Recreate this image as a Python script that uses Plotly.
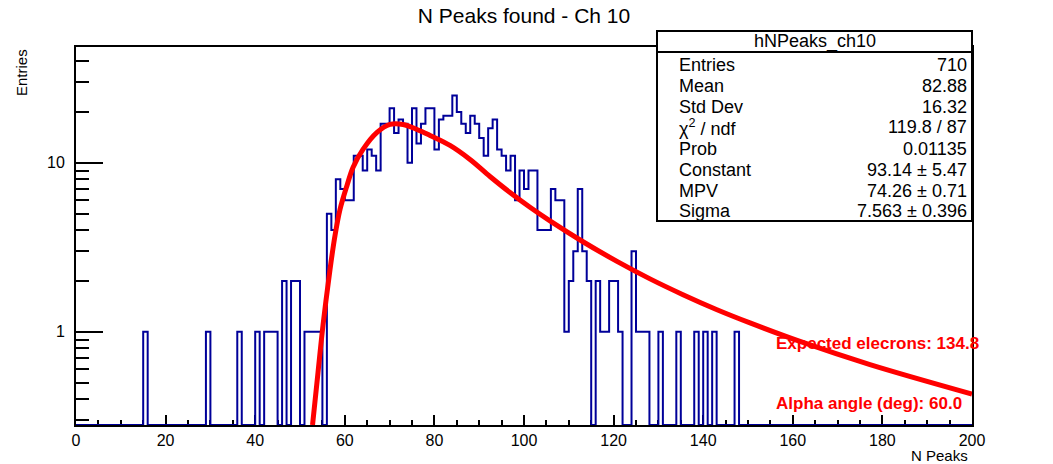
import plotly.graph_objects as go
import math

# ---------------- data ----------------
counts = [
    0, 0, 0, 0, 0, 0, 0, 0, 0, 0, 0, 0, 0, 0, 0, 1, 0, 0, 0, 0,
    0, 0, 0, 0, 0, 0, 0, 0, 0, 1, 0, 0, 0, 0, 0, 0, 1, 0, 0, 0,
    1, 0, 1, 1, 1, 0, 2, 0, 2, 2, 0, 1, 1, 1, 1, 0, 5, 4, 8, 7,
    6, 6, 11, 11, 9, 12, 11, 9, 17, 17, 21, 15, 18, 17, 10, 21, 13, 17, 21, 21,
    12, 18, 19, 19, 25, 20, 17, 15, 19, 17, 14, 11, 16, 18, 12, 11, 9, 11, 6, 9,
    7, 9, 9, 4, 4, 4, 7, 6, 6, 1, 2, 3, 7, 3, 2, 0, 2, 1, 1, 2,
    2, 1, 0, 0, 3, 1, 1, 1, 0, 0, 1, 0, 0, 0, 1, 0, 0, 0, 1, 0,
    1, 0, 1, 0, 0, 0, 0, 1, 0, 0, 0, 0, 0, 0, 0, 0, 0, 0, 0, 0,
    0, 0, 0, 0, 0, 0, 0, 0, 0, 0, 0, 0, 0, 0, 0, 0, 0, 0, 0, 0,
    0, 0, 0, 0, 0, 0, 0, 0, 0, 0, 0, 0, 0, 0, 0, 0, 0, 0, 0, 0,
]
bin_low = 0
bin_width = 1

# fitted (Landau) curve
fit_x = [52.8, 54.02, 55.13, 56.70, 57.81, 58.93, 60.49, 61.83, 64.06, 67.19,
         70.09, 72.99, 76.12, 79.02, 83.48, 87.95, 92.41, 96.88, 101.34, 105.80,
         113.17, 120.76, 128.13, 135.49, 143.08, 150.45, 161.61, 177.23, 200.0]
fit_y = [0.281, 0.574, 1.09, 2.34, 3.71, 5.29, 7.34, 9.38, 11.99, 15.11,
         16.85, 16.85, 15.74, 14.51, 12.66, 10.46, 8.30, 6.67, 5.45, 4.53,
         3.41, 2.61, 2.056, 1.658, 1.351, 1.129, 0.877, 0.640, 0.4285]

x_range = [0, 200]
y_range = [0.281, 48.4]
x_tick_vals = list(range(0, 201, 20))
x_minor_vals = [v for v in range(0, 201, 5) if v % 20 != 0]
y_tick_vals = [1, 10]
y_tick_text = ["1", "10"]
y_minor_vals = [0.3, 0.4, 0.5, 0.6, 0.7, 0.8, 0.9, 2, 3, 4, 5, 6, 7, 8, 9, 20, 30, 40]

title_text = "N Peaks found - Ch 10"
x_title = "N Peaks"
y_title = "Entries"

stats_title = "hNPeaks_ch10"
stats_labels = ["Entries", "Mean", "Std Dev", "χ<sup>2</sup> / ndf", "Prob",
                "Constant", "MPV", "Sigma"]
stats_values = ["710", "82.88", "16.32", "119.8 / 87", "0.01135",
                "93.14 ± 5.47", "74.26 ± 0.71", "7.563 ± 0.396"]
notes = ["Expected elecrons: 134.8", "Alpha angle (deg): 60.0"]

# ---------------- layout geometry (pixels) ----------------
W, H = 1053, 464
PX0, PX1, PY0, PY1 = 76, 972, 47, 425   # plot area: left, right, top, bottom


def px(x):
    return (x - PX0) / (PX1 - PX0)


def py(y):
    return (PY1 - y) / (PY1 - PY0)


FONT = "Liberation Sans, Arial, Helvetica, sans-serif"

# histogram outline (zero bins drawn on the lower edge, as ROOT does on log scale)
edges = [bin_low + i * bin_width for i in range(len(counts) + 1)]
hist_y = [c if c > 0 else y_range[0] for c in counts]
hist_y = hist_y + [hist_y[-1]]

fig = go.Figure()
fig.add_trace(go.Scatter(
    x=edges, y=hist_y, mode="lines",
    line=dict(color="#000099", width=2, shape="hv"),
    hoverinfo="skip", showlegend=False))
fig.add_trace(go.Scatter(
    x=fit_x, y=fit_y, mode="lines",
    line=dict(color="#ff0000", width=5, shape="spline", smoothing=1.0),
    hoverinfo="skip", showlegend=False))

axis_common = dict(
    showline=True, linecolor="black", linewidth=2, mirror=True,
    showgrid=False, zeroline=False, ticks="inside", tickcolor="black",
    tickwidth=2, tickfont=dict(family=FONT, size=16, color="black"),
    layer="below traces",
)

fig.update_xaxes(
    range=x_range, tickmode="array", tickvals=x_tick_vals,
    ticklen=10,
    minor=dict(tickmode="array", tickvals=x_minor_vals, ticks="inside",
               ticklen=5, tickwidth=2, tickcolor="black"),
    **axis_common)
fig.update_yaxes(
    type="log", range=[math.log10(y_range[0]), math.log10(y_range[1])],
    tickmode="array", tickvals=y_tick_vals, ticktext=y_tick_text,
    ticklen=27, ticklabelstandoff=6,
    minor=dict(tickmode="array", tickvals=y_minor_vals, ticks="inside",
               ticklen=13, tickwidth=2, tickcolor="black"),
    **axis_common)

shapes = []
# stats box
BX0, BX1, BY0, BY1 = 657, 972, 31, 221
shapes.append(dict(type="rect", xref="paper", yref="paper",
                   x0=px(BX0), x1=px(BX1), y0=py(BY1), y1=py(BY0),
                   fillcolor="white", line=dict(color="black", width=2),
                   layer="above"))
shapes.append(dict(type="line", xref="paper", yref="paper",
                   x0=px(BX0), x1=px(BX1), y0=py(52), y1=py(52),
                   line=dict(color="black", width=2), layer="above"))

annotations = []
annotations.append(dict(text=stats_title, xref="paper", yref="paper",
                        x=px((BX0 + BX1) / 2), y=py(42), xanchor="center",
                        yanchor="middle", showarrow=False,
                        font=dict(family=FONT, size=18, color="black")))
row_y = [65, 86, 107, 127, 148.5, 169.5, 190.5, 210.5]
for lab, val, yy in zip(stats_labels, stats_values, row_y):
    annotations.append(dict(text=lab, xref="paper", yref="paper",
                            x=px(677), y=py(yy), xanchor="left",
                            yanchor="middle", showarrow=False,
                            font=dict(family=FONT, size=18, color="black")))
    annotations.append(dict(text=val, xref="paper", yref="paper",
                            x=px(969), y=py(yy), xanchor="right",
                            yanchor="middle", showarrow=False,
                            font=dict(family=FONT, size=18, color="black")))

for note, yy in zip(notes, [343, 403]):
    annotations.append(dict(text="<b>%s</b>" % note, xref="paper", yref="paper",
                            x=px(774), y=py(yy), xanchor="left",
                            yanchor="middle", showarrow=False,
                            font=dict(family=FONT, size=17, color="#ff0000")))

# axis titles (ROOT style: right/top aligned)
annotations.append(dict(text=x_title, xref="paper", yref="paper",
                        x=px(970), y=py(455.5), xanchor="right", yanchor="middle",
                        showarrow=False,
                        font=dict(family=FONT, size=15, color="black")))
annotations.append(dict(text=y_title, xref="paper", yref="paper",
                        x=px(21), y=py(73), xanchor="center", yanchor="middle",
                        textangle=-90, showarrow=False,
                        font=dict(family=FONT, size=15, color="black")))

fig.update_layout(
    width=W, height=H,
    margin=dict(l=PX0, r=W - PX1, t=PY0, b=H - PY1, pad=0),
    paper_bgcolor="white", plot_bgcolor="white",
    title=dict(text=title_text, x=(PX0 + PX1) / 2 / W, xref="container",
               xanchor="center", y=1 - 16 / H, yref="container",
               yanchor="middle",
               font=dict(family=FONT, size=21, color="black")),
    shapes=shapes, annotations=annotations,
    showlegend=False,
)

fig.write_html("out.html")
